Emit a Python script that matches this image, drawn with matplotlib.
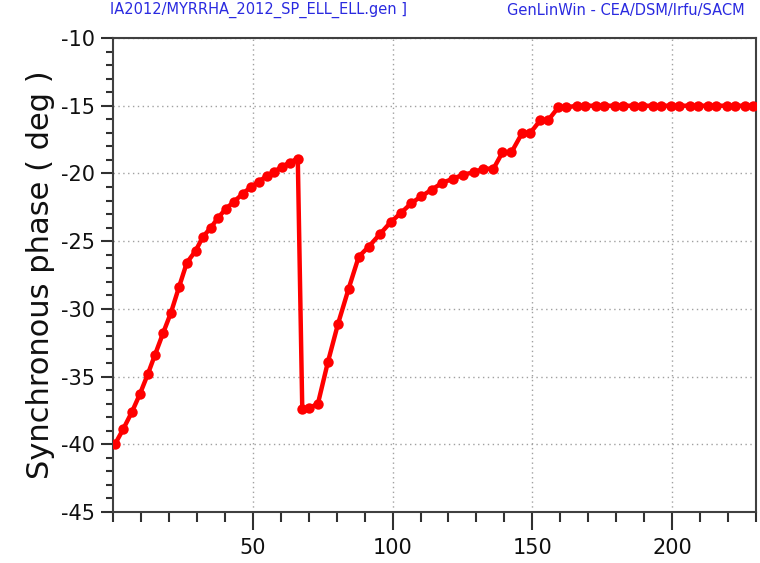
import numpy as np
import matplotlib
matplotlib.use("Agg")
import matplotlib.pyplot as plt
from matplotlib.ticker import MultipleLocator

plt.rcParams['axes.unicode_minus'] = False

# cell index vs synchronous phase (deg)
pos_low = [0.7, 3.6, 6.8, 9.6, 12.5, 15.0, 17.9, 20.7, 23.6, 26.4, 29.6, 32.1,
           35.0, 37.5, 40.4, 43.2, 46.4, 49.3, 52.1, 55.0, 57.5, 60.4, 63.2, 66.1]
phi_low = [-40.0, -38.9, -37.6, -36.3, -34.8, -33.4, -31.8, -30.3, -28.4, -26.6,
           -25.7, -24.7, -24.0, -23.3, -22.6, -22.1, -21.5, -21.0, -20.6, -20.2,
           -19.9, -19.5, -19.2, -18.9]

pos_mid = [67.7, 70.0, 73.3, 76.9, 80.5, 84.3, 87.9, 91.5, 95.4, 99.3, 103.1,
           106.7, 110.2, 114.0, 117.7, 121.5, 125.1, 129.3]
phi_mid = [-37.4, -37.35, -37.0, -33.9, -31.1, -28.5, -26.15, -25.4, -24.5,
           -23.6, -22.9, -22.2, -21.7, -21.2, -20.7, -20.4, -20.1, -19.9]

pos_high = [132.5, 136.1, 139.3, 142.5, 146.4, 149.3, 152.9, 155.7, 159.3, 162.1,
            166.0, 169.0, 172.8, 175.8, 179.6, 182.6, 186.4, 189.4, 193.1, 196.1,
            199.6, 202.6, 206.4, 209.4, 212.8, 215.8, 219.6, 222.6, 226.0, 229.0]
phi_high = [-19.65, -19.65, -18.45, -18.45, -17.0, -17.0, -16.06, -16.06,
            -15.12, -15.12, -15.0, -15.0, -15.0, -15.0, -15.0, -15.0, -15.0,
            -15.0, -15.0, -15.0, -15.0, -15.0, -15.0, -15.0, -15.0, -15.0,
            -15.0, -15.0, -15.0, -15.0]

x = pos_low + pos_mid + pos_high
y = phi_low + phi_mid + phi_high

fig = plt.figure(figsize=(7.6, 5.63), dpi=100)
ax = fig.add_axes([113 / 760, 1 - 512 / 563, (756 - 113) / 760, (512 - 38) / 563])

ax.plot(x, y, color="red", linewidth=3.2, marker="o", markersize=7.5,
        markeredgewidth=0, clip_on=True, zorder=3)

ax.set_xlim(0, 230)
ax.set_ylim(-45, -10)
ax.xaxis.set_major_locator(MultipleLocator(50))
ax.xaxis.set_minor_locator(MultipleLocator(10))
ax.yaxis.set_major_locator(MultipleLocator(5))
ax.yaxis.set_minor_locator(MultipleLocator(1))
ax.set_xticks([50, 100, 150, 200])

ax.grid(True, which="major", color="#a0a0a0", linestyle=(0, (1, 2.5)), linewidth=1)
ax.tick_params(axis="both", which="major", labelsize=15, color="#303030",
               width=1.5, labelcolor="#101010")
ax.tick_params(axis="x", which="major", length=13, pad=6)
ax.tick_params(axis="x", which="minor", length=7, width=1.5, color="#303030")
ax.tick_params(axis="y", which="major", length=9, pad=4)
ax.tick_params(axis="y", which="minor", length=5, width=1.5, color="#303030")
for s in ax.spines.values():
    s.set_color("#404040")
    s.set_linewidth(1.5)

ax.set_ylabel("Synchronous phase ( deg )", fontsize=22, color="#101010", labelpad=4)

fig.text(110 / 760, 1 - 10 / 563, "IA2012/MYRRHA_2012_SP_ELL_ELL.gen ]",
         color="#2a2ae0", fontsize=10.5, va="center", ha="left")
fig.text(745 / 760, 1 - 10 / 563, "GenLinWin - CEA/DSM/Irfu/SACM",
         color="#2a2ae0", fontsize=10.5, va="center", ha="right")

fig.savefig("out.png", dpi=100)
